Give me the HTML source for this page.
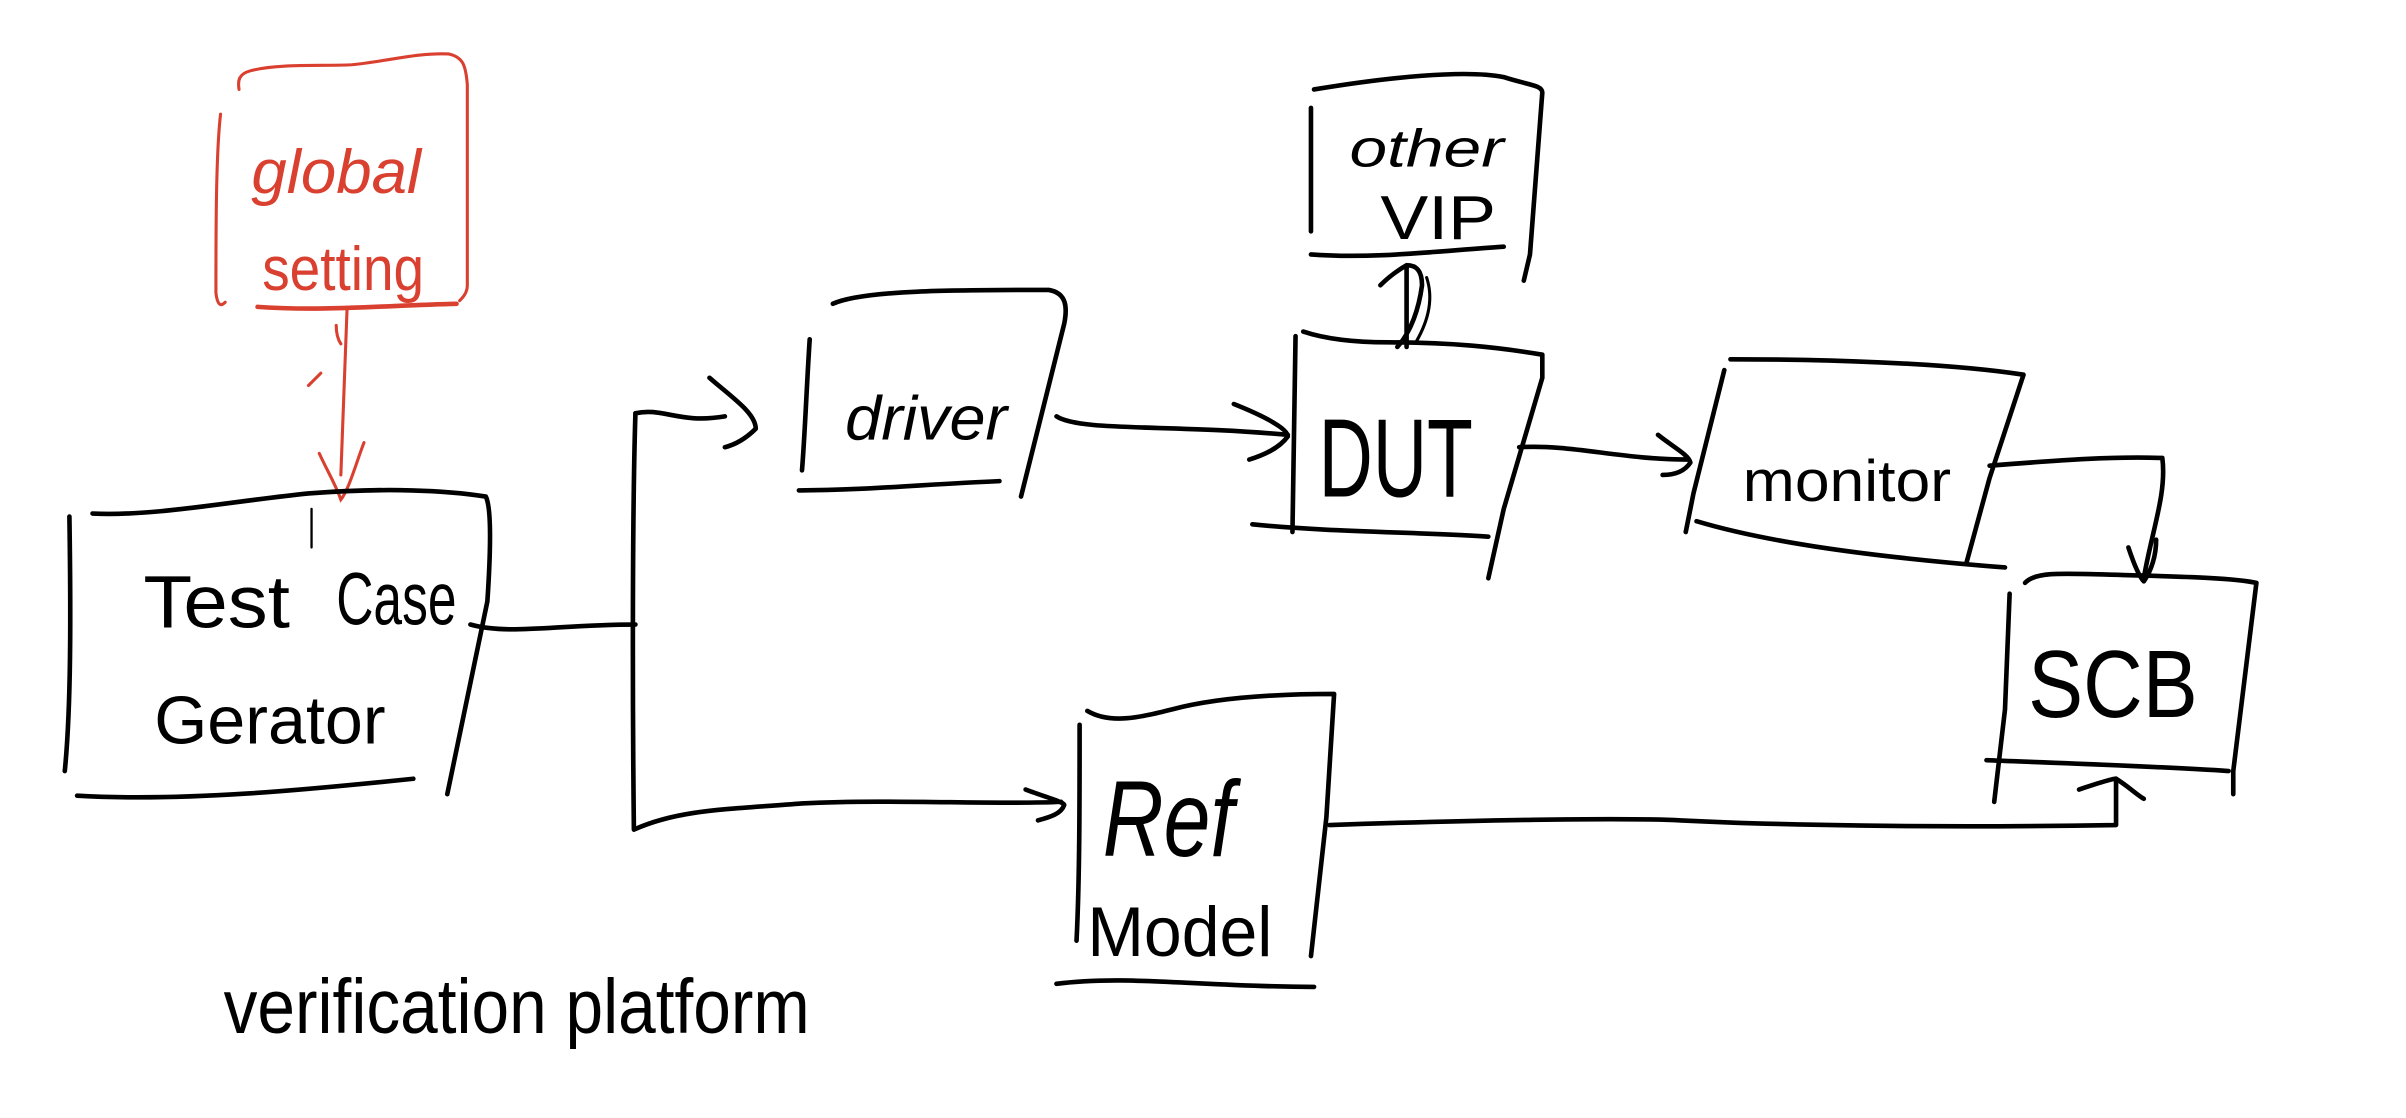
<!DOCTYPE html>
<html><head><meta charset="utf-8"><style>
html,body{margin:0;padding:0;background:#fff;}
svg{display:block;}
text{font-family:"Liberation Sans Narrow","Liberation Sans",sans-serif;font-weight:normal;}
</style></head><body>
<svg width="2406" height="1118" viewBox="0 0 1560 725" preserveAspectRatio="none" xmlns="http://www.w3.org/2000/svg">
<rect width="1560" height="725" fill="#fff"/>
<g fill="none" stroke="#d94030" stroke-width="2" stroke-linecap="round">
<path d="M155,58 C154,52 155,48 162,46 C180,41 210,43 228,42 C250,40 270,34 291,35 C300,37 302,42 303,55 L303,185 C303,190 300,193 298,195"/>
<path d="M143,74 C140,100 140,150 140,190 C141,198 143,199 146,196"/>
<path d="M167,199 C210,202 250,198 296,197" stroke-width="3"/>
<path d="M225,201 L221,308 M207,294 C212,305 218,315 221,324 C226,318 231,300 236,287 M218,211 C218,216 219,220 221,223 M200,250 L208,242"/>
</g>
<text x="163" y="125" font-size="40" fill="#d94030" font-style="italic" textLength="110" lengthAdjust="spacingAndGlyphs">global</text>
<text x="170" y="188" font-size="40" fill="#d94030" textLength="105" lengthAdjust="spacingAndGlyphs">setting</text>

<g fill="none" stroke="#000" stroke-width="3" stroke-linecap="round" stroke-linejoin="round">
<path d="M60,333 C100,335 150,325 200,320 C250,316 290,318 315,322 C319,330 318,360 316,390 L290,515"/>
<path d="M45,335 C46,400 46,460 42,500"/>
<path d="M50,516 C120,520 200,512 268,505"/>
<path d="M202,330 L202,355" stroke-width="1.5"/>
<path d="M305,405 C330,412 360,405 412,405"/>
<path d="M412,268 C410,330 410,450 411,538 C440,525 470,525 520,521 C580,518 640,522 688,520"/>
<path d="M412,268 C430,264 440,275 470,270"/>
<path d="M460,245 C475,258 490,268 490,278 C485,283 478,288 470,290"/>
<path d="M665,512 C675,516 690,520 690,522 C688,528 680,530 673,532"/>
<path d="M540,197 C560,188 620,188 680,188 C692,190 692,200 690,210 L662,322"/>
<path d="M525,220 C523,250 522,280 520,305"/>
<path d="M518,318 C560,318 600,314 648,312"/>
<path d="M685,270 C700,280 760,275 835,282"/>
<path d="M800,262 C820,270 835,278 835,283 C830,290 820,295 810,298"/>
<path d="M845,215 C860,220 880,222 900,222 C940,222 970,225 1000,230 L1000,245 L975,330 L965,375"/>
<path d="M840,218 L838,345"/>
<path d="M812,340 C860,345 920,345 965,348"/>
<path d="M852,58 C900,50 950,45 975,50 C990,55 1000,55 1000,60 L992,165 L988,182"/>
<path d="M850,70 L850,150"/>
<path d="M850,165 C890,168 930,163 975,160"/>
<path d="M912,172 L912,225 M906,225 C915,215 920,200 922,185 C922,175 918,172 912,172 C905,176 900,180 895,185"/>
<path d="M918,222 C925,210 930,195 925,180" stroke-width="2"/>
<path d="M985,290 C1020,288 1050,298 1095,298"/>
<path d="M1075,282 C1085,290 1095,295 1096,300 C1092,306 1085,308 1078,308"/>
<path d="M1122,233 C1180,233 1260,235 1312,243 L1290,310 L1275,365"/>
<path d="M1118,240 L1098,320 L1093,345"/>
<path d="M1100,338 C1140,350 1200,360 1300,368"/>
<path d="M1290,302 C1340,298 1370,296 1402,297 C1405,320 1395,345 1390,375"/>
<path d="M1380,355 C1385,370 1388,375 1390,377 C1395,370 1398,360 1398,350"/>
<path d="M1313,378 C1320,370 1340,372 1380,373 C1420,374 1450,375 1463,378 L1448,500 L1448,515"/>
<path d="M1303,385 L1300,460 L1293,520"/>
<path d="M1288,493 C1340,495 1400,497 1445,500"/>
<path d="M862,535 C950,532 1050,530 1090,532 C1150,535 1250,537 1372,535 L1372,505"/>
<path d="M1348,512 C1360,508 1370,505 1372,505 C1380,510 1385,515 1390,518"/>
<path d="M705,461 C720,470 740,465 760,460 C790,452 830,450 865,450 L860,530 L850,620"/>
<path d="M700,470 C700,520 700,570 698,610"/>
<path d="M685,638 C730,632 780,640 852,640"/>
</g>
<g fill="#000">
<text x="93" y="407" font-size="48" textLength="95" lengthAdjust="spacingAndGlyphs">Test</text>
<text x="218" y="405" font-size="48" textLength="78" lengthAdjust="spacingAndGlyphs">Case</text>
<text x="100" y="482" font-size="44" textLength="150" lengthAdjust="spacingAndGlyphs">Gerator</text>
<text x="548" y="285" font-size="40" font-style="italic" textLength="105" lengthAdjust="spacingAndGlyphs">driver</text>
<text x="855" y="322" font-size="72" textLength="100" lengthAdjust="spacingAndGlyphs">DUT</text>
<text x="875" y="108" font-size="34" font-style="italic" textLength="100" lengthAdjust="spacingAndGlyphs">other</text>
<text x="895" y="155" font-size="40" textLength="75" lengthAdjust="spacingAndGlyphs">VIP</text>
<text x="1130" y="325" font-size="38" textLength="135" lengthAdjust="spacingAndGlyphs">monitor</text>
<text x="1315" y="465" font-size="62" textLength="110" lengthAdjust="spacingAndGlyphs">SCB</text>
<text x="715" y="555" font-size="70" font-style="italic" textLength="85" lengthAdjust="spacingAndGlyphs">Ref</text>
<text x="705" y="620" font-size="46" textLength="120" lengthAdjust="spacingAndGlyphs">Model</text>
<text x="145" y="670" font-size="50" textLength="380" lengthAdjust="spacingAndGlyphs">verification platform</text>
</g>
</svg>
</body></html>
